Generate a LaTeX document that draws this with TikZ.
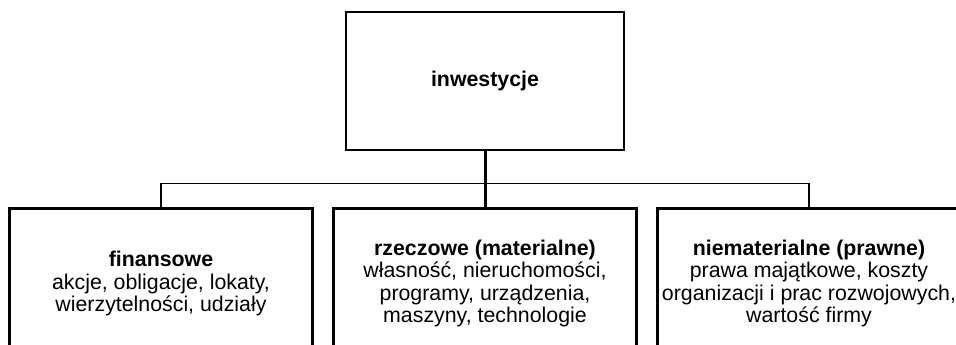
\documentclass[tikz,border=0pt]{standalone}
\usepackage{fontspec}
\setmainfont{Liberation Sans}
\usepackage{tikz}
\usetikzlibrary{positioning}

\begin{document}
\begin{tikzpicture}[
  x=0.75pt,
  y=-0.75pt,
  category/.style={
    draw=black,
    line width=2pt,
    align=center,
    inner sep=0pt,
    font=\fontsize{16}{16.8}\selectfont,
    minimum width=227pt,
    minimum height=112.5pt,
  },
  root/.style={
    category,
    minimum width=208.5pt,
    minimum height=103.5pt,
  },
  trunk/.style={
    line width=2.25pt,
  },
  branch/.style={
    line width=1pt,
  }
]
\useasboundingbox (0,0) rectangle (956,344);
\clip (0,0) rectangle (956,344);
\node[root] (inwestycje) at (485,81) {\textbf{inwestycje}};
\node[category,below=42pt of inwestycje] (rzeczowe)
  {\textbf{rzeczowe (materialne)}\\własność, nieruchomości,\\programy, urządzenia,\\maszyny, technologie};
\node[category,left=14pt of rzeczowe] (finansowe)
  {\textbf{finansowe}\\akcje, obligacje, lokaty,\\wierzytelności, udziały};
\node[category,right=14pt of rzeczowe] (niematerialne)
  {\textbf{niematerialne (prawne)}\\prawa majątkowe, koszty\\organizacji i prac rozwojowych,\\wartość firmy};
\draw[branch] (finansowe.north) -- ++(0,-24) -| (niematerialne.north);
\draw[trunk] (inwestycje.south) -- (rzeczowe.north);
\end{tikzpicture}
\end{document}
